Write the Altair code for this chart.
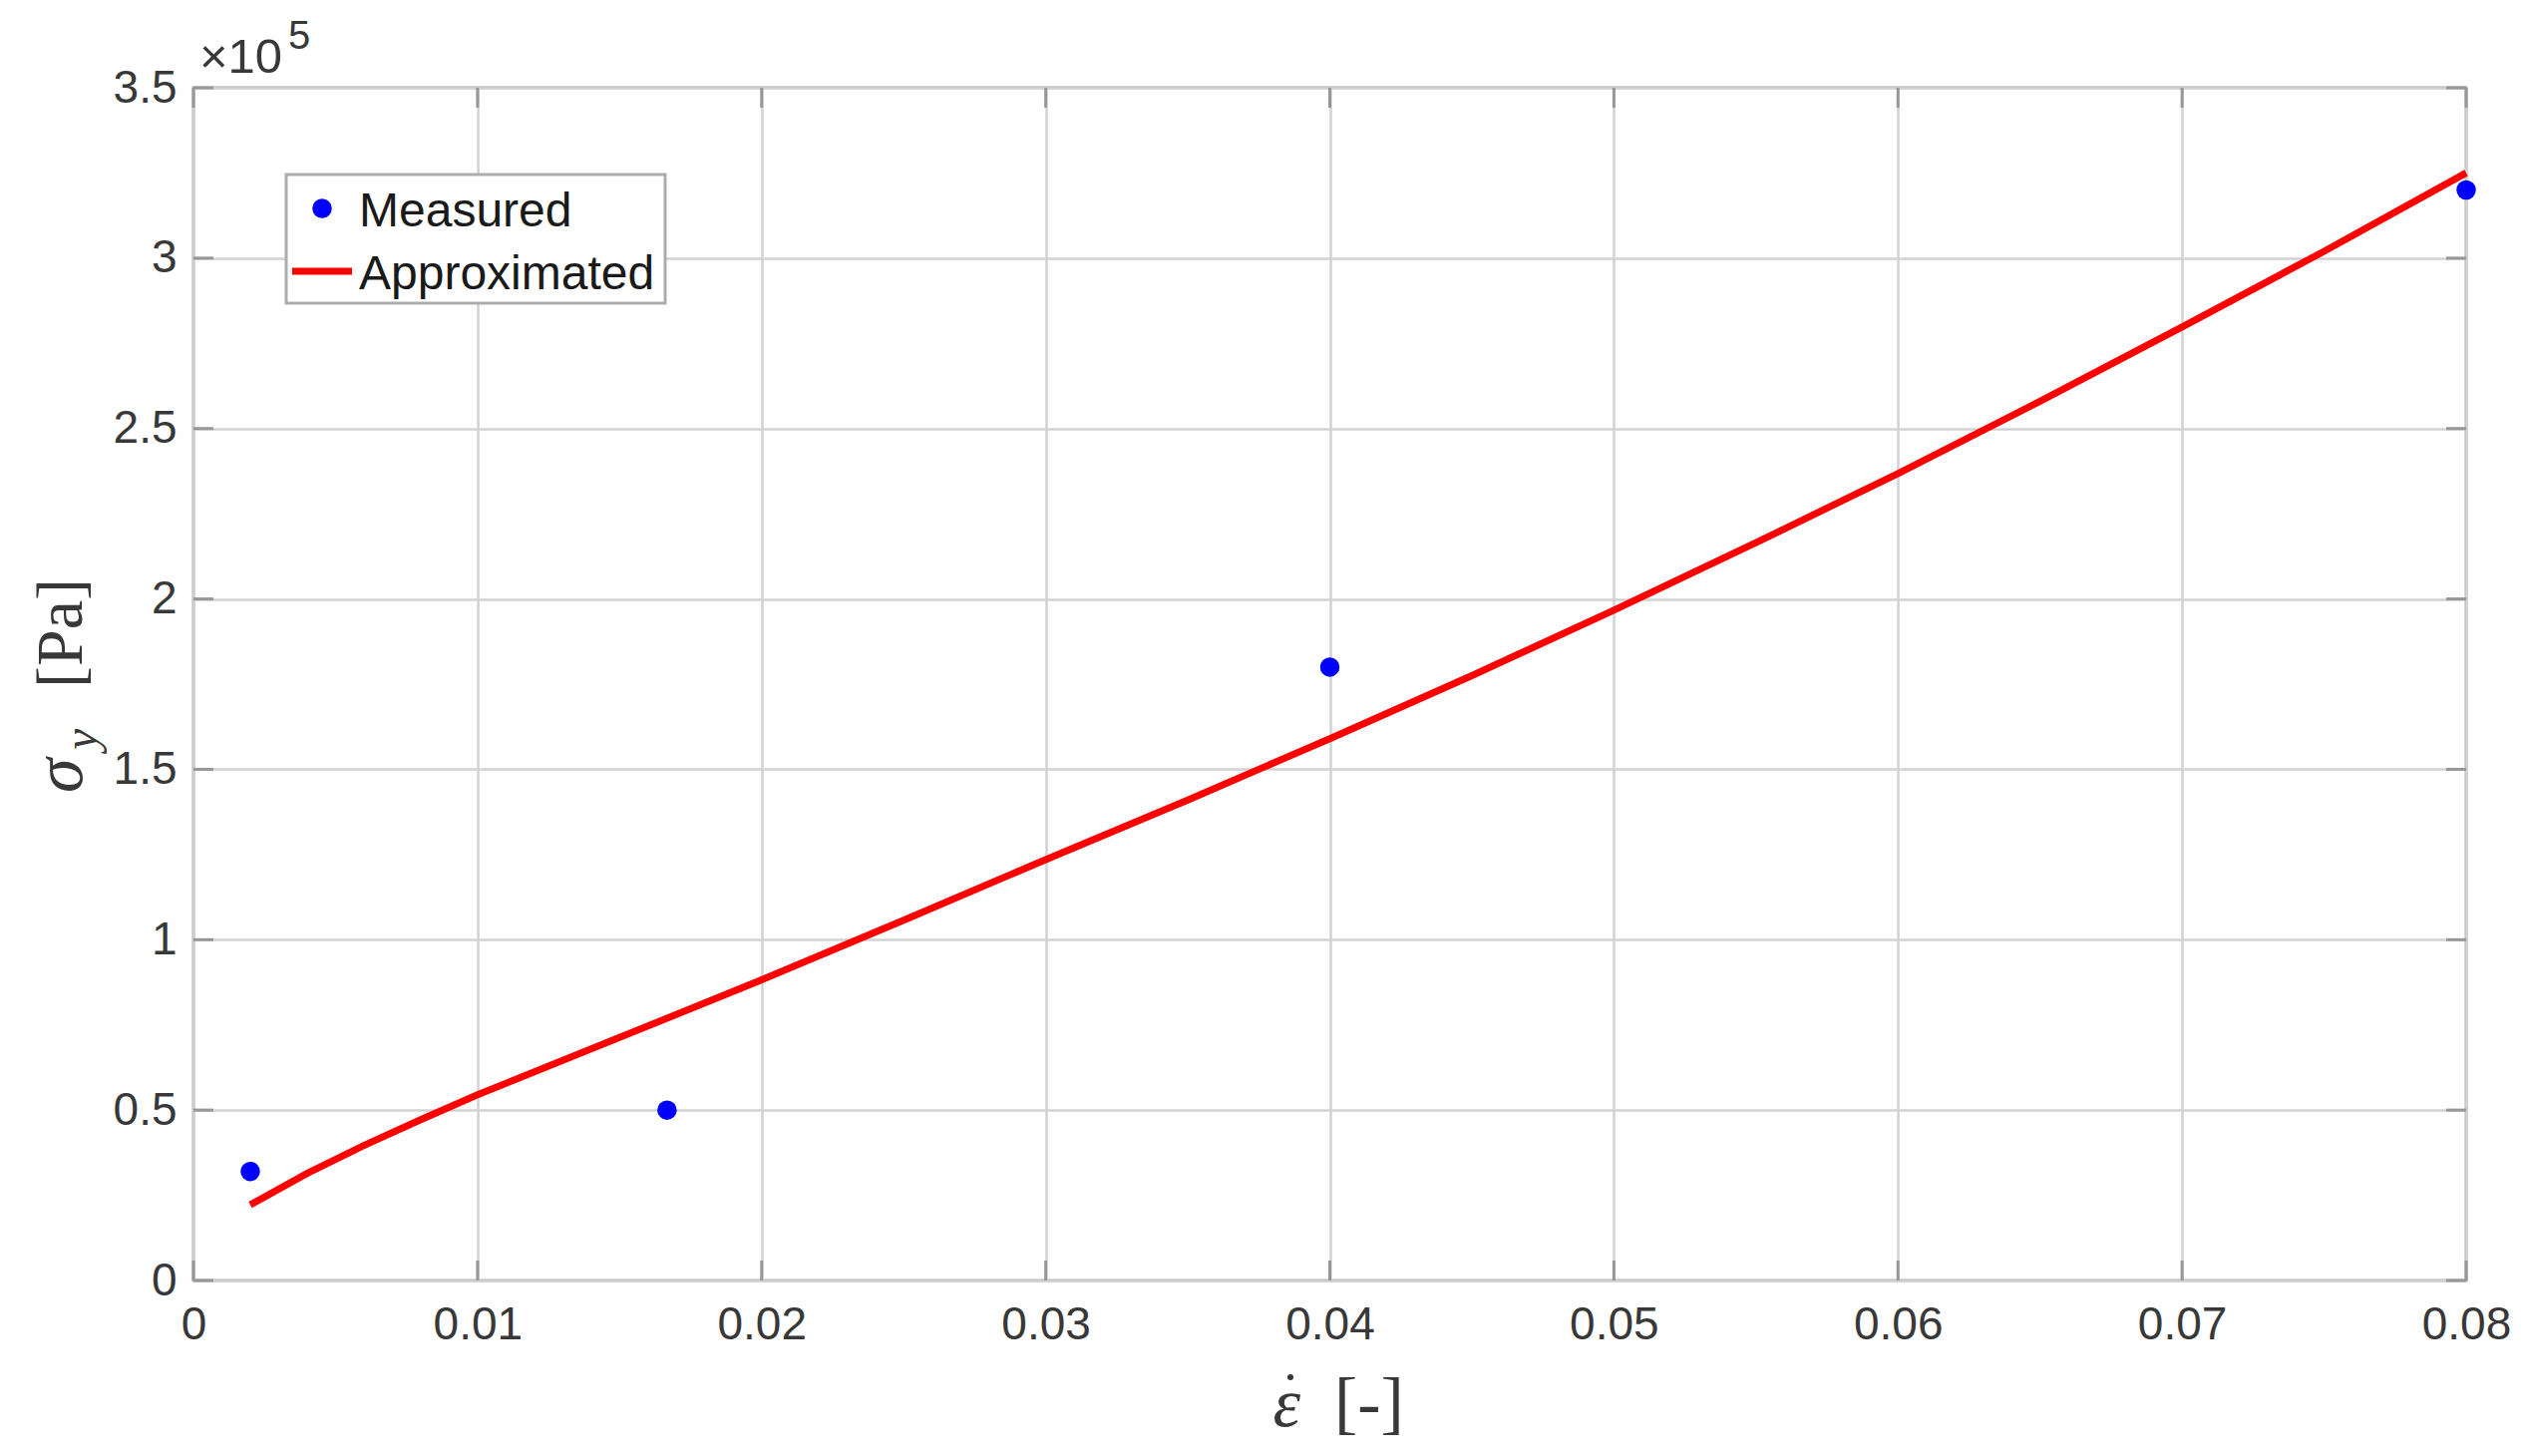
import altair as alt
import pandas as pd

# ---- data ----
measured_x = [0.002, 0.01667, 0.04, 0.08]
measured_y = [32000, 50000, 180000, 320000]

approx_x = [0.002, 0.004, 0.006, 0.008, 0.01, 0.015, 0.02, 0.025, 0.03, 0.035,
            0.04, 0.045, 0.05, 0.055, 0.06, 0.065, 0.07, 0.075, 0.08]
approx_y = [22200, 31400, 39600, 47200, 54500, 71300, 88200, 105700, 123500, 141000,
            159000, 177500, 196700, 216500, 236800, 258000, 279800, 302000, 325000]

x_ticks = [0, 0.01, 0.02, 0.03, 0.04, 0.05, 0.06, 0.07, 0.08]
y_ticks = [0, 50000, 100000, 150000, 200000, 250000, 300000, 350000]

legend_labels = ["Measured", "Approximated"]

W, H = 2279, 1196
GRID = "#d2d2d2"
BOX = "#adadad"
TICKC = "#979797"
LABC = "#383838"
SANS = "Liberation Sans"
SERIF = "Liberation Serif"

xs = alt.Scale(domain=[0, 0.08], nice=False)
ys = alt.Scale(domain=[0, 350000], nice=False)

xa = alt.Axis(values=x_ticks, format=".2~f", grid=True, ticks=False, domain=False,
              labelFlush=False, labelPadding=22, title=None)
ya = alt.Axis(values=y_ticks, labelExpr="datum.value / 100000", grid=True, ticks=False,
              domain=False, labelFlush=False, labelPadding=17, title=None)

meas_df = pd.DataFrame({"x": measured_x, "y": measured_y})
appr_df = pd.DataFrame({"x": approx_x, "y": approx_y})

base_line = alt.Chart(appr_df).mark_line(color="#ff0000", strokeWidth=7).encode(
    x=alt.X("x:Q", scale=xs, axis=xa),
    y=alt.Y("y:Q", scale=ys, axis=ya),
)

points = alt.Chart(meas_df).mark_circle(color="#0000ff", size=380, opacity=1).encode(
    x=alt.X("x:Q", scale=xs, axis=xa), y=alt.Y("y:Q", scale=ys, axis=ya)
)

# inward tick marks (MATLAB box style)
yt_df = pd.DataFrame({"y": y_ticks})
xt_df = pd.DataFrame({"x": x_ticks})
ytl = alt.Chart(yt_df).mark_rule(color=TICKC, strokeWidth=3).encode(
    y=alt.Y("y:Q", scale=ys, axis=ya), x=alt.value(0), x2=alt.value(20))
ytr = alt.Chart(yt_df).mark_rule(color=TICKC, strokeWidth=3).encode(
    y=alt.Y("y:Q", scale=ys, axis=ya), x=alt.value(W - 20), x2=alt.value(W))
xtb = alt.Chart(xt_df).mark_rule(color=TICKC, strokeWidth=3).encode(
    x=alt.X("x:Q", scale=xs, axis=xa), y=alt.value(H - 20), y2=alt.value(H))
xtt = alt.Chart(xt_df).mark_rule(color=TICKC, strokeWidth=3).encode(
    x=alt.X("x:Q", scale=xs, axis=xa), y=alt.value(0), y2=alt.value(20))


def label(txt, x, y, size, font, style="normal", angle=0, align="left", color="#262626"):
    return alt.Chart(pd.DataFrame({"t": [txt]})).mark_text(
        align=align, baseline="alphabetic", font=font, fontSize=size, fontStyle=style,
        angle=angle, color=color
    ).encode(x=alt.value(x), y=alt.value(y), text="t:N")


# legend
one = pd.DataFrame({"k": [0]})
leg_box = alt.Chart(one).mark_rect(fill="white", stroke=BOX, strokeWidth=3).encode(
    x=alt.value(93), x2=alt.value(473), y=alt.value(87), y2=alt.value(216))
leg_dot = alt.Chart(one).mark_circle(color="#0000ff", size=380, opacity=1).encode(
    x=alt.value(129), y=alt.value(121))
leg_line = alt.Chart(one).mark_rule(color="#ff0000", strokeWidth=7).encode(
    x=alt.value(99), x2=alt.value(159), y=alt.value(184))
leg_t1 = label(legend_labels[0], 166, 139, 48, SANS, color="#1a1a1a")
leg_t2 = label(legend_labels[1], 166, 202, 48, SANS, color="#1a1a1a")

# exponent
exp1 = label("×10", 6, -15, 49, SANS, color=LABC)
exp2 = label("5", 95, -39, 40, SANS, color=LABC)

# axis titles
xt1 = label("ε", 1110, 1342, 70, SERIF, style="italic", align="right", color=LABC)
xdot = alt.Chart(one).mark_circle(color=LABC, size=36, opacity=1).encode(
    x=alt.value(1100), y=alt.value(1293))
xt2 = label("[-]", 1144, 1342, 70, SERIF, color=LABC)
yt1 = label("σ", -112, 707, 70, SERIF, style="italic", angle=270, color=LABC)
yt2 = label("y", -97, 664, 48, SERIF, style="italic", angle=270, color=LABC)
yt3 = label("[Pa]", -112, 602, 66, SERIF, angle=270, color=LABC)

chart = alt.layer(
    base_line, points, ytl, ytr, xtb, xtt,
    leg_box, leg_dot, leg_line, leg_t1, leg_t2,
    exp1, exp2, xt1, xdot, xt2, yt1, yt2, yt3,
).properties(
    width=W, height=H,
    autosize=alt.AutoSizeParams(type="none"),
    padding={"left": 186, "top": 80, "right": 53, "bottom": 168},
    background="white",
).configure_view(
    stroke=BOX, strokeWidth=3
).configure_axis(
    gridColor=GRID, gridWidth=2.5, gridOpacity=1,
    labelFont=SANS, labelFontSize=46, labelColor=LABC,
)

chart.save("out.html", embed_options={"renderer": "svg", "actions": False})
